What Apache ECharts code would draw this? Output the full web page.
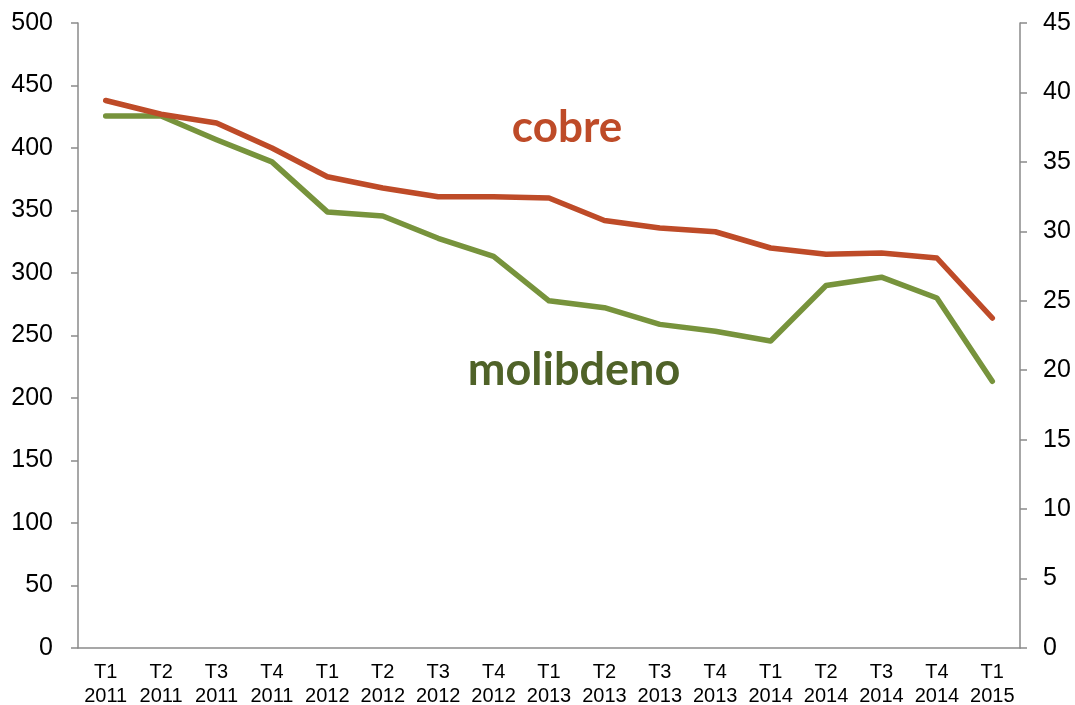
<!DOCTYPE html>
<html>
<head>
<meta charset="utf-8">
<script src="https://cdn.jsdelivr.net/npm/echarts@6/dist/echarts.min.js"></script>
<style>
  html, body { margin: 0; padding: 0; background: #fff; }
  #chart { width: 1075px; height: 705px; }
</style>
</head>
<body>
<div id="chart"></div>
<script>
// trimestres
var categories = [
  "T1\n2011", "T2\n2011", "T3\n2011", "T4\n2011",
  "T1\n2012", "T2\n2012", "T3\n2012", "T4\n2012",
  "T1\n2013", "T2\n2013", "T3\n2013", "T4\n2013",
  "T1\n2014", "T2\n2014", "T3\n2014", "T4\n2014",
  "T1\n2015"
];
// eje izquierdo
var cobre = [438, 427, 420, 400, 377, 368, 361, 361, 360, 342, 336, 333, 320, 315, 316, 312, 264];
// eje derecho
var molibdeno = [38.3, 38.3, 36.6, 35.0, 31.4, 31.1, 29.5, 28.2, 25.0, 24.5, 23.3, 22.8, 22.1, 26.1, 26.7, 25.2, 19.2];

var axisGrey = "#8a8a8a";
var myChart = echarts.init(document.getElementById("chart"));

var option = {
  animation: false,
  grid: { left: 78, right: 55, top: 23, bottom: 57, outerBoundsMode: "none" },
  xAxis: {
    type: "category",
    data: categories,
    boundaryGap: true,
    axisLine: { lineStyle: { color: axisGrey, width: 1.5 } },
    axisTick: { show: false },
    axisLabel: {
      color: "#000",
      fontSize: 20,
      fontFamily: "Liberation Sans, Arial, sans-serif",
      lineHeight: 24,
      margin: 12,
      interval: 0
    }
  },
  yAxis: [
    {
      type: "value",
      min: 0, max: 500, interval: 50,
      axisLine: { show: true, lineStyle: { color: axisGrey, width: 1.5 } },
      axisTick: { show: true, length: 7, lineStyle: { color: axisGrey, width: 1.5 } },
      splitLine: { show: false },
      axisLabel: {
        color: "#000",
        fontSize: 25,
        fontFamily: "Liberation Sans, Arial, sans-serif",
        margin: 25
      }
    },
    {
      type: "value",
      position: "right",
      min: 0, max: 45, interval: 5,
      axisLine: { show: true, lineStyle: { color: axisGrey, width: 1.5 } },
      axisTick: { show: true, length: 7, lineStyle: { color: axisGrey, width: 1.5 } },
      splitLine: { show: false },
      axisLabel: {
        color: "#000",
        fontSize: 25,
        fontFamily: "Liberation Sans, Arial, sans-serif",
        margin: 23
      }
    }
  ],
  series: [
    {
      name: "cobre",
      type: "line",
      yAxisIndex: 0,
      data: cobre,
      showSymbol: false,
      symbol: "none",
      lineStyle: { color: "#BE4B28", width: 5.5, cap: "round", join: "round" },
      itemStyle: { color: "#BE4B28" },
      z: 3
    },
    {
      name: "molibdeno",
      type: "line",
      yAxisIndex: 1,
      data: molibdeno,
      showSymbol: false,
      symbol: "none",
      lineStyle: { color: "#77933C", width: 5.5, cap: "round", join: "round" },
      itemStyle: { color: "#77933C" },
      z: 2
    }
  ],
  graphic: [
    {
      type: "text",
      x: 567, y: 128,
      style: {
        text: "cobre",
        fill: "#BE4B28",
        fontSize: 44,
        fontWeight: "bold",
        fontFamily: "Lato, 'Open Sans', sans-serif",
        align: "center",
        verticalAlign: "middle"
      }
    },
    {
      type: "text",
      x: 574, y: 370,
      style: {
        text: "molibdeno",
        fill: "#4F6228",
        fontSize: 45,
        fontWeight: "bold",
        fontFamily: "Lato, 'Open Sans', sans-serif",
        align: "center",
        verticalAlign: "middle"
      }
    }
  ]
};

myChart.setOption(option);
</script>
</body>
</html>
